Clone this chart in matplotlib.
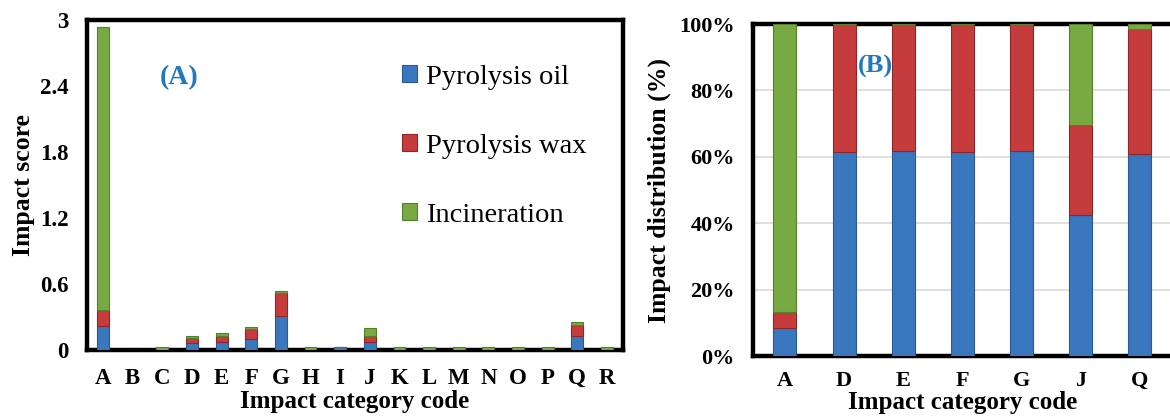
import matplotlib.pyplot as plt
import numpy as np

plt.rcParams['font.family'] = ['Liberation Serif', 'DejaVu Serif']

# Panel A: impact scores by category
codes_a = ['A', 'B', 'C', 'D', 'E', 'F', 'G', 'H', 'I', 'J', 'K', 'L', 'M', 'N', 'O', 'P', 'Q', 'R']
oil_a = [0.22, 0, 0, 0.065, 0.073, 0.103, 0.31, 0, 0.03, 0.076, 0, 0, 0, 0, 0, 0, 0.128, 0]
wax_a = [0.146, 0, 0, 0.045, 0.055, 0.087, 0.21, 0, 0, 0.052, 0, 0, 0, 0, 0, 0, 0.102, 0]
inc_a = [2.574, 0, 0.03, 0.018, 0.03, 0.02, 0.02, 0.03, 0, 0.072, 0.03, 0.03, 0.03, 0.03, 0.03, 0.03, 0.023, 0.03]

# Panel B: share of each route (%)
codes_b = ['A', 'D', 'E', 'F', 'G', 'J', 'Q']
oil_b = [8.3, 61.6, 61.8, 61.6, 61.8, 42.6, 60.8]
wax_b = [5.0, 38.4, 38.2, 38.4, 38.2, 26.9, 37.7]
inc_b = [86.7, 0, 0, 0, 0, 30.5, 1.5]

names = ['Pyrolysis oil', 'Pyrolysis wax', 'Incineration']
colors = ['#3b77bf', '#c63c3c', '#79a943']
edges = ['#2a5a93', '#8e2828', '#55802b']
label_blue = '#1f78c1'

fig = plt.figure(figsize=(11.7, 4.18), dpi=100)
ax1 = fig.add_axes([0.0744, 0.1627, 0.458, 0.789])
ax2 = fig.add_axes([0.6436, 0.1483, 0.358, 0.794])


def stacked(ax, codes, series, width, fs):
    x = np.arange(len(codes))
    bottom = np.zeros(len(codes))
    for vals, name, c, ec in zip(series, names, colors, edges):
        vals = np.array(vals, dtype=float)
        ax.bar(x, vals, width, bottom=bottom, color=c, edgecolor=ec,
               linewidth=0.8, label=name, zorder=3)
        bottom += vals
    ax.set_xticks(x)
    ax.set_xticklabels(codes)
    ax.set_xlim(-0.54, len(codes) - 0.46)
    for s in ax.spines.values():
        s.set_linewidth(3.2)
        s.set_zorder(2.5)
    ax.tick_params(length=0, labelsize=fs)
    for t in ax.get_xticklabels() + ax.get_yticklabels():
        t.set_fontweight('bold')


stacked(ax1, codes_a, [oil_a, wax_a, inc_a], 0.4, 16.5)
ax1.set_ylim(0, 3)
ax1.set_yticks([0, 0.6, 1.2, 1.8, 2.4, 3])
ax1.set_yticklabels(['0', '0.6', '1.2', '1.8', '2.4', '3'])
for t in ax1.get_yticklabels():
    t.set_fontweight('bold')
ax1.tick_params(axis='y', pad=13)
ax1.tick_params(axis='x', pad=13)
ax1.set_ylabel('Impact score', fontsize=18.5, fontweight='bold', labelpad=4)
ax1.set_xlabel('Impact category code', fontsize=18, fontweight='bold', labelpad=1)
ax1.text(0.135, 0.807, '(A)', transform=ax1.transAxes, fontsize=20,
         fontweight='bold', color=label_blue)
ax1.legend(loc='upper left', bbox_to_anchor=(0.567, 0.9), frameon=False,
           fontsize=20.5, handlelength=0.52, handleheight=0.52, handletextpad=0.3,
           labelspacing=1.55, borderaxespad=0)

stacked(ax2, codes_b, [oil_b, wax_b, inc_b], 0.39, 16)
ax2.set_ylim(0, 100)
ax2.set_yticks(range(0, 101, 20))
ax2.set_yticklabels([f'{v}%' for v in range(0, 101, 20)])
for t in ax2.get_yticklabels():
    t.set_fontweight('bold')
ax2.tick_params(axis='y', pad=13)
ax2.tick_params(axis='x', pad=11)
ax2.yaxis.grid(True, color='#d9d9d9', linewidth=1.2, zorder=0)
ax2.set_axisbelow(True)
ax2.set_ylabel('Impact distribution (%)', fontsize=18.5, fontweight='bold', labelpad=6)
ax2.set_xlabel('Impact category code', fontsize=18, fontweight='bold', labelpad=0)
ax2.text(0.25, 0.855, '(B)', transform=ax2.transAxes, fontsize=19,
         fontweight='bold', color=label_blue)

fig.savefig('out.png', dpi=100)
